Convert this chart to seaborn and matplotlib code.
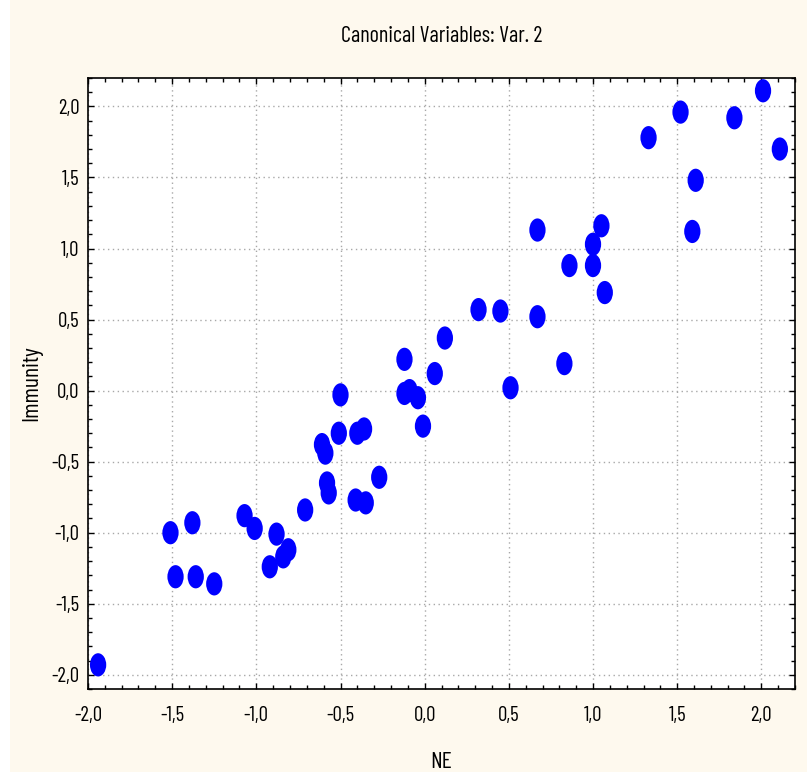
import numpy as np
import pandas as pd
import matplotlib
matplotlib.use("Agg")
import matplotlib.pyplot as plt
from matplotlib.path import Path
from matplotlib.patches import Rectangle
from matplotlib.ticker import MultipleLocator, FuncFormatter
import seaborn as sns

# Data -------------------------------------------------------------------------#
ne = [-1.94, -1.51, -1.38, -1.48, -1.36, -1.25, -1.07, -1.01, -0.88, -0.92,
      -0.84, -0.81, -0.71, -0.61, -0.59, -0.58, -0.57, -0.50, -0.51, -0.40,
      -0.36, -0.41, -0.35, -0.27, -0.12, -0.12, -0.09, -0.04, -0.01, 0.06,
      0.12, 0.32, 0.45, 0.51, 0.67, 0.67, 0.83, 0.86, 1.00, 1.00,
      1.05, 1.07, 1.33, 1.52, 1.61, 1.59, 1.84, 2.01, 2.11]
immunity = [-1.93, -1.00, -0.93, -1.31, -1.31, -1.36, -0.88, -0.97, -1.01, -1.24,
            -1.17, -1.12, -0.84, -0.38, -0.44, -0.65, -0.72, -0.03, -0.30, -0.30,
            -0.27, -0.77, -0.79, -0.61, 0.22, -0.02, 0.00, -0.05, -0.25, 0.12,
            0.37, 0.57, 0.56, 0.02, 1.13, 0.52, 0.19, 0.88, 1.03, 0.88,
            1.16, 0.69, 1.78, 1.96, 1.48, 1.12, 1.92, 2.11, 1.70]

df = pd.DataFrame({"NE": ne, "Immunity": immunity})

# Style -----------------------------------------------------------------------#
sns.set_style("white")
plt.rcParams["font.family"] = ["Barlow Condensed", "Archivo Narrow", "Liberation Sans", "DejaVu Sans"]
plt.rcParams["text.color"] = "black"
plt.rcParams["axes.labelcolor"] = "black"
plt.rcParams["xtick.color"] = "black"
plt.rcParams["ytick.color"] = "black"

cream = "#FEF9EE"
fig = plt.figure(figsize=(8.07, 7.82), dpi=100, facecolor="white")
fig.patches.append(Rectangle((10 / 807, 10 / 782), 1, 1, transform=fig.transFigure,
                             facecolor=cream, edgecolor="none", zorder=-10))
ax = fig.add_axes([88 / 807, (782 - 689) / 782, (795 - 88) / 807, (689 - 78) / 782])
ax.set_facecolor("white")

# tall ellipse marker
circ = Path.unit_circle()
ellipse = Path(circ.vertices * np.array([0.70, 1.0]), circ.codes)

sns.scatterplot(data=df, x="NE", y="Immunity", ax=ax, marker=ellipse, s=280,
                color="#0000FF", edgecolor="none", linewidth=0, zorder=3)

ax.set_xlim(-2.0, 2.2)
ax.set_ylim(-2.1, 2.2)

comma = FuncFormatter(lambda v, p: f"{v:.1f}".replace(".", ","))
for axis in (ax.xaxis, ax.yaxis):
    axis.set_major_locator(MultipleLocator(0.5))
    axis.set_minor_locator(MultipleLocator(0.1))
    axis.set_major_formatter(comma)

ax.tick_params(which="both", direction="in", top=True, right=True,
               bottom=True, left=True, color="black", width=1)
ax.tick_params(which="major", length=4, labelsize=15)
ax.tick_params(axis="x", which="major", pad=12)
ax.tick_params(axis="y", which="major", pad=6)
ax.tick_params(which="minor", length=3)

ax.grid(True, which="major", linestyle=(0, (1, 2.5)), color="#a8a8a8", linewidth=1.0)
ax.set_axisbelow(True)

for side in ax.spines.values():
    side.set_color("black")
    side.set_linewidth(1.2)

ax.set_title("Canonical Variables: Var. 2", fontsize=16, pad=26)
ax.set_xlabel("NE", fontsize=17, labelpad=20)
ax.set_ylabel("Immunity", fontsize=17, labelpad=7)

fig.savefig("out.png", dpi=100, facecolor=fig.get_facecolor())
